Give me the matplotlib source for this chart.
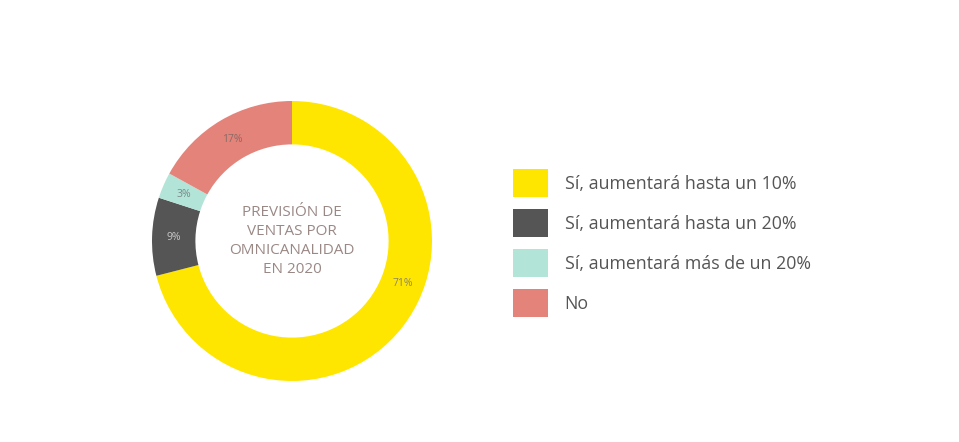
import numpy as np
import matplotlib.pyplot as plt
from matplotlib.patches import Patch

# data
labels = ['Sí, aumentará hasta un 10%', 'Sí, aumentará hasta un 20%',
          'Sí, aumentará más de un 20%', 'No']
values = [71, 9, 3, 17]
colors = ['#FFE600', '#555555', '#B2E4D8', '#E4837A']
pct_colors = ['#8a8466', '#c8c8c8', '#7a8a86', '#8a6a66']
center_text = 'PREVISIÓN DE\nVENTAS POR\nOMNICANALIDAD\nEN 2020'

plt.rcParams['font.family'] = ['Open Sans', 'DejaVu Sans']

W, H = 959, 442
fig = plt.figure(figsize=(W / 100, H / 100), dpi=100)

# donut centred at (292, 241) px, outer radius 140 px
cx, cy, r = 292, 241, 140
ax = fig.add_axes([(cx - r) / W, (H - cy - r) / H, 2 * r / W, 2 * r / H])
wedges, texts, autotexts = ax.pie(
    values, colors=colors, startangle=90, counterclock=False, radius=1,
    autopct='%d%%', pctdistance=0.845,
    wedgeprops=dict(width=0.31, linewidth=0),
    textprops=dict(fontsize=7.5))
for t, c in zip(autotexts, pct_colors):
    t.set_color(c)
# the big slice's label sits lower on the ring in the original
ang = np.deg2rad(-21)
autotexts[0].set_position((0.845 * np.cos(ang), 0.845 * np.sin(ang)))
ax.set_xlim(-1, 1)
ax.set_ylim(-1, 1)
ax.set_aspect('equal')
ax.axis('off')

ax.text(0, 0, center_text, ha='center', va='center', fontsize=11,
        color='#9a8885', linespacing=1.37)

handles = [Patch(facecolor=c, edgecolor='none') for c in colors]
fig.legend(handles, labels, loc='upper left',
           bbox_to_anchor=(513 / W, 1 - 169 / H), frameon=False,
           fontsize=12.8, labelcolor='#555555', borderpad=0,
           borderaxespad=0, handlelength=1.95, handleheight=2.05,
           labelspacing=0.68, handletextpad=0.95)

fig.savefig('out.png', dpi=100, facecolor='white')
